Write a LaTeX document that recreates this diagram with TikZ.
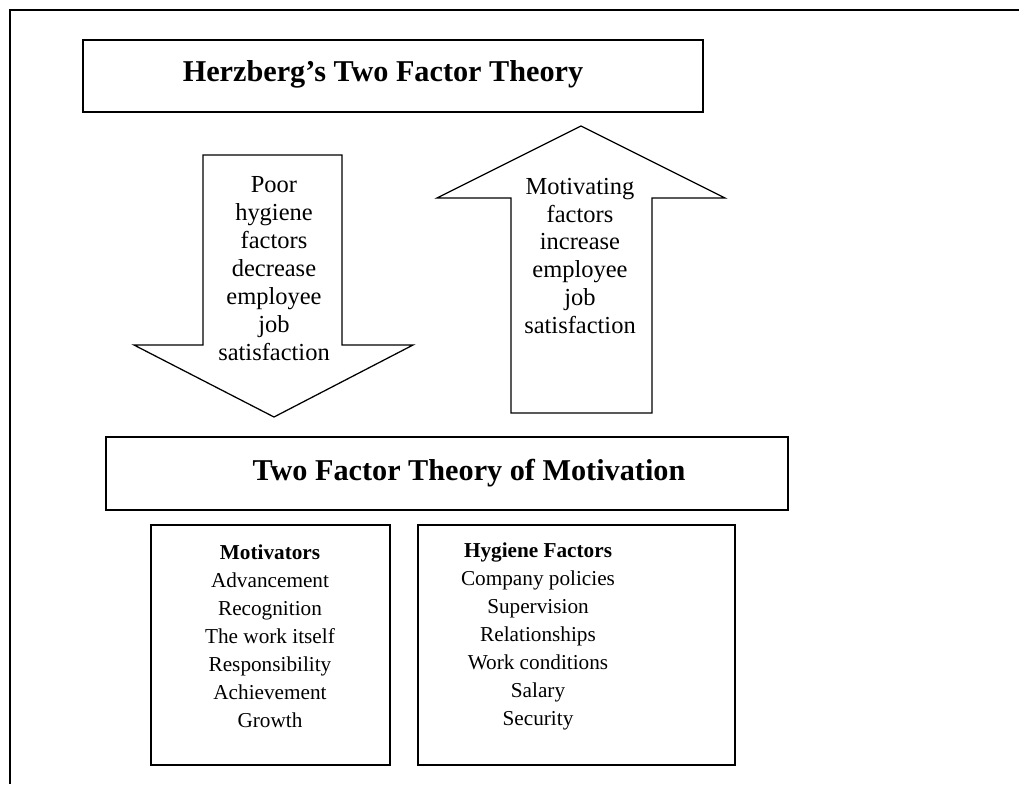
\documentclass[tikz,border=0pt]{standalone}
\usepackage{fontspec}
\setmainfont{Liberation Serif}
\begin{document}
\begin{tikzpicture}[x=0.025cm, y=-0.025cm,
  frame/.style={draw, line width=1.4pt},
  box/.style={draw, line width=1.3pt, inner sep=0pt},
  bigarrow/.style={draw, line width=0.9pt, line join=miter},
  heading/.style={font=\fontsize{21.5}{24}\selectfont\bfseries, inner sep=0pt},
  arrowtext/.style={font=\fontsize{17.4}{19.9}\selectfont, align=center, inner sep=0pt},
  listtext/.style={font=\fontsize{15.1}{19.9}\selectfont, align=center, inner sep=0pt}
]
\useasboundingbox (0,0) rectangle (1019,784);
\draw[frame] (10,784) -- (10,10) -- (1019,10);

\node[box, minimum width=15.5cm, minimum height=1.8cm] (theorybox) at (393,76) {};
\node[heading] (theory) at (383,74) {Herzberg's Two Factor Theory};

\draw[bigarrow] (203,155) -- (342,155) -- (342,345) -- (413,345) -- (274,417)
  -- (134,345) -- (203,345) -- cycle;
\node[arrowtext] (poor) at (274,269)
  {Poor\\hygiene\\factors\\decrease\\employee\\job\\satisfaction};

\draw[bigarrow] (511,413) -- (652,413) -- (652,198) -- (725,198) -- (581,126)
  -- (437,198) -- (511,198) -- cycle;
\node[arrowtext] (motivating) at (580,256)
  {Motivating\\factors\\increase\\employee\\job\\satisfaction};

\node[box, minimum width=17.05cm, minimum height=1.825cm] (motivationbox) at (447,473.5) {};
\node[heading] (motivation) at (469,473) {Two Factor Theory of Motivation};

\node[box, minimum width=5.975cm, minimum height=6cm] (motbox) at (270.5,645) {};
\node[listtext] (motivators) at (270,636)
  {\textbf{Motivators}\\Advancement\\Recognition\\The work itself\\Responsibility\\Achievement\\Growth};

\node[box, minimum width=7.925cm, minimum height=6cm] (hygbox) at (576.5,645) {};
\node[listtext] (hygiene) at (538,636)
  {\textbf{Hygiene Factors}\\Company policies\\Supervision\\Relationships\\Work conditions\\Salary\\Security};
\end{tikzpicture}
\end{document}
